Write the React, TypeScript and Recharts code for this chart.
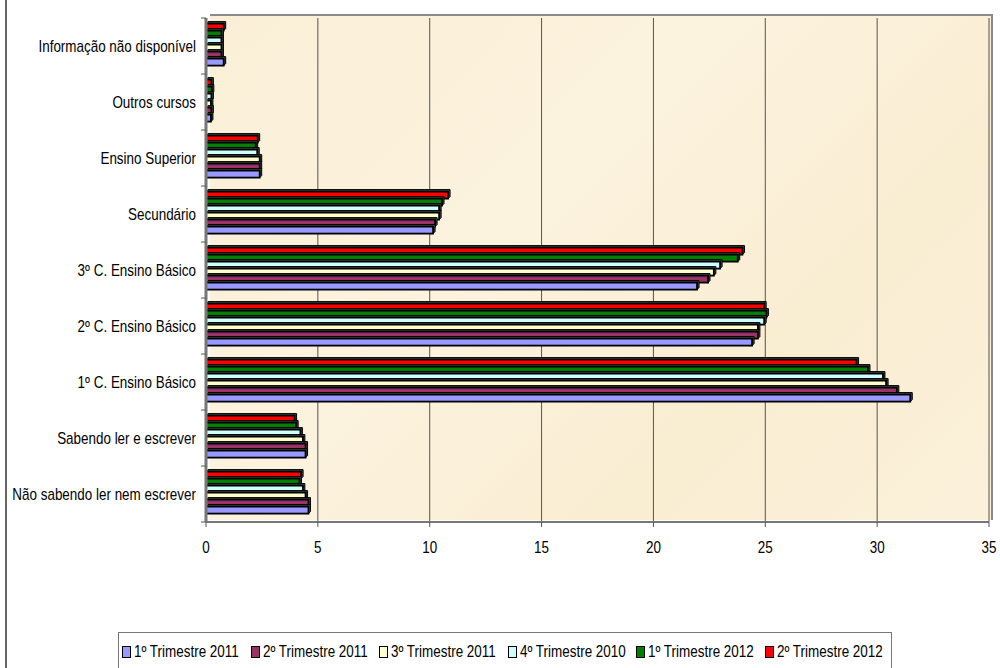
import React from 'react';
import { BarChart, Bar, XAxis, YAxis, CartesianGrid, Legend } from 'recharts';

const categories = [
  'Informação não disponível',
  'Outros cursos',
  'Ensino Superior',
  'Secundário',
  '3º C. Ensino Básico',
  '2º C. Ensino Básico',
  '1º C. Ensino Básico',
  'Sabendo ler e escrever',
  'Não sabendo ler nem escrever',
];

const t1_2011 = [0.79, 0.22, 2.4, 10.15, 21.95, 24.41, 31.48, 4.45, 4.58];
const t2_2011 = [0.69, 0.24, 2.4, 10.24, 22.44, 24.67, 30.88, 4.45, 4.58];
const t3_2011 = [0.69, 0.22, 2.4, 10.42, 22.7, 24.67, 30.4, 4.33, 4.45];
const t4_2010 = [0.69, 0.24, 2.29, 10.42, 22.98, 24.95, 30.26, 4.22, 4.33];
const t1_2012 = [0.69, 0.26, 2.22, 10.55, 23.77, 25.05, 29.59, 4.03, 4.18];
const t2_2012 = [0.79, 0.24, 2.31, 10.82, 23.98, 24.95, 29.08, 3.96, 4.25];

const xTicks = [0, 5, 10, 15, 20, 25, 30, 35];

const legendSeries = [
  { key: 't1_2011', name: '1º Trimestre 2011', color: '#9999FF', values: t1_2011 },
  { key: 't2_2011', name: '2º Trimestre 2011', color: '#993366', values: t2_2011 },
  { key: 't3_2011', name: '3º Trimestre 2011', color: '#FFFFCC', values: t3_2011 },
  { key: 't4_2010', name: '4º Trimestre 2010', color: '#CCFFFF', values: t4_2010 },
  { key: 't1_2012', name: '1º Trimestre 2012', color: '#008000', values: t1_2012 },
  { key: 't2_2012', name: '2º Trimestre 2012', color: '#FF0000', values: t2_2012 },
];

const data = categories.map((c, i) => {
  const row: Record<string, string | number> = { category: c };
  legendSeries.forEach((s) => {
    row[s.key] = s.values[i];
  });
  return row;
});

const drawSeries = [...legendSeries].reverse();

const FONT = "'Liberation Sans', Arial, sans-serif";
const SX = 0.84;
const CHART_W = 1000;
const CHART_H = 668;
const MARGIN = { top: 18, right: 11, bottom: 116, left: 0 };
const X_AXIS_H = 30;
const Y_TICK_MARGIN = 4;
const Y_TICK_SIZE = 6;
const BAND = (CHART_H - MARGIN.top - MARGIN.bottom - X_AXIS_H) / categories.length;

const Bar3D = (props: any) => {
  const { x, y, width, height, fill } = props;
  if (width == null || height == null) return null;
  const d = 2;
  return (
    <g>
      <path
        d={`M${x},${y} L${x + d},${y - d} L${x + width + d},${y - d} L${x + width + d},${y + height - d} L${x + width},${y + height} Z`}
        fill="#444"
        stroke="#000"
        strokeWidth={1}
      />
      <rect x={x} y={y} width={width} height={height} fill={fill} stroke="#000" strokeWidth={1.8} />
    </g>
  );
};

const YTick = (p: any) => {
  const ax = Y_TICK_MARGIN + Y_TICK_SIZE;
  const isLast = p.index === categories.length - 1;
  return (
    <g transform={`translate(${p.x},${p.y})`}>
      <line x1={ax - 5} x2={ax} y1={-BAND / 2} y2={-BAND / 2} stroke="#555" strokeWidth={1} />
      {isLast && <line x1={ax - 5} x2={ax} y1={BAND / 2} y2={BAND / 2} stroke="#555" strokeWidth={1} />}
      <text x={0} y={0} dy="0.355em" textAnchor="end" transform={`scale(${SX},1)`} fill="#000" fontSize={16} fontFamily={FONT}>
        {p.payload.value}
      </text>
    </g>
  );
};

const XTick = (p: any) => (
  <g transform={`translate(${p.x},${p.y})`}>
    <text x={0} y={0} dy="0.71em" textAnchor="middle" transform={`scale(${SX},1)`} fill="#000" fontSize={16} fontFamily={FONT}>
      {p.payload.value}
    </text>
  </g>
);

const LegendContent = () => (
  <div
    style={{
      border: '1px solid #777',
      borderBottom: 'none',
      background: '#fff',
      height: 36,
      boxSizing: 'border-box',
      display: 'flex',
      alignItems: 'flex-start',
      padding: '10px 0 0 3px',
      fontFamily: FONT,
      fontSize: 16,
      color: '#000',
      whiteSpace: 'nowrap',
    }}
  >
    {legendSeries.map((s) => (
      <span key={s.key} style={{ display: 'inline-flex', alignItems: 'center', width: 128.6, flex: '0 0 auto' }}>
        <span
          style={{
            display: 'inline-block',
            width: 7,
            height: 10,
            background: s.color,
            border: '1px solid #000',
            marginRight: 3,
            flex: '0 0 auto',
          }}
        />
        <span style={{ display: 'inline-block', transform: `scaleX(${SX})`, transformOrigin: 'left center' }}>{s.name}</span>
      </span>
    ))}
  </div>
);

export default function App() {
  return (
    <div style={{ position: 'fixed', left: 0, top: 0, width: CHART_W, height: CHART_H, background: '#fff', overflow: 'hidden' }}>
      <div style={{ position: 'absolute', left: 5, top: 0, width: 2, height: CHART_H, background: '#666' }} />
      <div
        style={{
          position: 'absolute',
          left: 210,
          top: 14,
          width: 783,
          height: 506,
          background: 'linear-gradient(135deg, #FAEFD6 0%, #FCF3DF 40%, #F9EDD2 70%, #FBF1DA 100%)',
          borderTop: '2px solid #8a8a8a',
          borderRight: '2px solid #8a8a8a',
          boxSizing: 'border-box',
        }}
      />
      <div style={{ position: 'absolute', left: 0, top: 0, width: CHART_W, height: CHART_H }}>
        <BarChart
          width={CHART_W}
          height={CHART_H}
          data={data}
          layout="vertical"
          margin={MARGIN}
          barCategoryGap="10%"
          barGap={0}
        >
          <CartesianGrid horizontal={false} vertical={true} stroke="#555" strokeWidth={1} fill="none" />
          <XAxis
            type="number"
            domain={[0, 35]}
            ticks={xTicks}
            height={X_AXIS_H}
            tickSize={5}
            tickMargin={15}
            tick={<XTick />}
            axisLine={{ stroke: '#777', strokeWidth: 2 }}
            tickLine={{ stroke: '#555' }}
          />
          <YAxis
            type="category"
            dataKey="category"
            width={206}
            tickLine={false}
            tickSize={Y_TICK_SIZE}
            tickMargin={Y_TICK_MARGIN}
            tick={<YTick />}
            axisLine={{ stroke: '#777', strokeWidth: 3 }}
            interval={0}
          />
          {drawSeries.map((s) => (
            <Bar
              key={s.key}
              dataKey={s.key}
              name={s.name}
              fill={s.color}
              shape={<Bar3D />}
              isAnimationActive={false}
            />
          ))}
          <Legend
            layout="vertical"
            align="center"
            verticalAlign="middle"
            content={<LegendContent />}
            wrapperStyle={{ position: 'absolute', left: 118, top: 632, width: 774 }}
          />
        </BarChart>
      </div>
    </div>
  );
}
